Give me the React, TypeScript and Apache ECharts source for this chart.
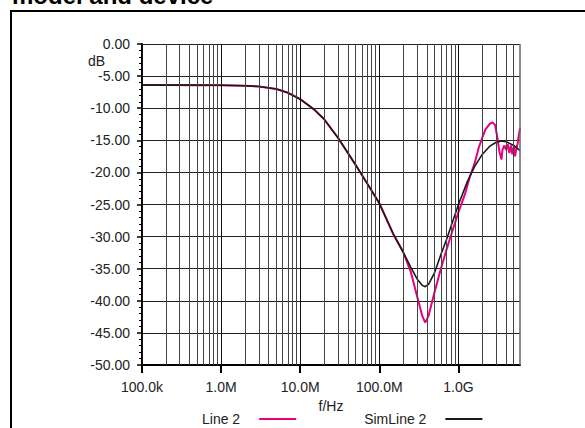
import React, { useEffect, useRef } from "react";
import * as echarts from "echarts";

const titleText = "model and device";
const xTicks = [1e5, 1e6, 1e7, 1e8, 1e9];
const xTickLabels = ["100.0k", "1.0M", "10.0M", "100.0M", "1.0G"];
const xMin = 1e5;
const xMax = 6e9;
const yMin = -50;
const yMax = 0;
const yStep = 5;

const line2Freq = [
  1e5, 2e5, 5e5, 1e6, 2e6, 3e6, 5e6, 7e6, 1e7, 1.5e7, 2e7, 3e7, 5e7, 7e7, 1e8, 1.5e8, 2e8,
  2.5e8, 3e8, 3.5e8, 3.8e8, 4.2e8, 5e8, 6e8, 7e8, 8e8, 1e9, 1.2e9, 1.4e9, 1.6e9, 1.8e9, 2e9,
  2.2e9, 2.5e9, 2.7e9, 2.9e9, 3.1e9, 3.3e9, 3.5e9, 3.6e9, 3.8e9, 4.0e9, 4.2e9, 4.4e9, 4.6e9,
  4.8e9, 5.0e9, 5.2e9, 5.4e9, 5.6e9, 5.8e9, 6.0e9,
];
const line2Db = [
  -6.4, -6.4, -6.41, -6.43, -6.5, -6.62, -7.0, -7.6, -8.6, -10.2, -11.7, -14.6, -18.8, -21.7, -24.8, -29.6, -32.4,
  -35.5, -39.3, -42.4, -43.4, -42.3, -38.6, -35.0, -32.2, -29.9, -26.2, -23.5, -20.6, -18.6, -16.2, -14.6,
  -13.3, -12.4, -12.2, -12.6, -14.5, -16.8, -18.0, -16.5, -15.8, -16.5, -15.6, -17.0, -15.8,
  -17.2, -16.0, -17.5, -16.3, -15.5, -14.2, -13.1,
];

const simFreq = [
  1e5, 2e5, 5e5, 1e6, 2e6, 3e6, 5e6, 7e6, 1e7, 1.5e7, 2e7, 3e7, 5e7, 7e7, 1e8, 1.5e8, 2e8,
  2.5e8, 3e8, 3.5e8, 3.8e8, 4.2e8, 5e8, 6e8, 7e8, 8e8, 1e9, 1.3e9, 1.6e9, 2e9, 2.5e9, 3e9,
  3.5e9, 4e9, 5e9, 6e9,
];
const simDb = [
  -6.4, -6.4, -6.41, -6.43, -6.5, -6.62, -7.0, -7.6, -8.6, -10.2, -11.7, -14.6, -18.8, -21.7, -24.8, -29.6, -32.4,
  -34.8, -36.6, -37.6, -37.8, -37.4, -35.6, -32.8, -30.6, -28.5, -25.0, -21.4, -19.1, -17.2, -15.9, -15.3,
  -15.1, -15.2, -15.8, -16.6,
];

const minorMultiples = [2, 3, 4, 5, 6, 7, 8, 9];

export default function App() {
  const ref = useRef<HTMLDivElement>(null);

  useEffect(() => {
    if (!ref.current) return;
    const chart = echarts.init(ref.current, null, { renderer: "svg" });

    const minorLines: any[] = [];
    xTicks.forEach((d) => {
      minorMultiples.forEach((m) => {
        const v = d * m;
        if (v < xMax) minorLines.push({ xAxis: v });
      });
    });
    const majorLines = xTicks.map((v) => ({ xAxis: v }));

    const font = "'Liberation Sans', Arial, Helvetica, sans-serif";
    const fs = 14;
    const fmtX = (v: number) => {
      for (let i = 0; i < xTicks.length; i++) {
        if (Math.abs(v / xTicks[i] - 1) < 1e-6) return xTickLabels[i];
      }
      return "";
    };

    chart.setOption({
      animation: false,
      textStyle: { fontFamily: font },
      grid: { left: 142, top: 44, width: 378, height: 321, containLabel: false },
      xAxis: {
        type: "log",
        logBase: 10,
        min: xMin,
        max: xMax,
        name: "f/Hz",
        nameLocation: "middle",
        nameGap: 29,
        nameTextStyle: { fontSize: fs, color: "#222", fontFamily: font },
        axisLine: { show: true, onZero: false, lineStyle: { color: "#000", width: 2 } },
        axisTick: { show: true, length: 8, lineStyle: { color: "#000", width: 2 } },
        axisLabel: { formatter: fmtX, fontSize: fs, color: "#222", margin: 15, fontFamily: font, showMaxLabel: false },
        splitLine: { show: false },
        minorTick: { show: false },
      },
      yAxis: {
        type: "value",
        min: yMin,
        max: yMax,
        interval: yStep,
        axisLine: { show: true, lineStyle: { color: "#000", width: 2 } },
        axisTick: { show: true, length: 5, lineStyle: { color: "#000", width: 1.5 } },
        minorTick: { show: true, splitNumber: 5, length: 3, lineStyle: { color: "#000", width: 1 } },
        axisLabel: {
          formatter: (v: number) => v.toFixed(2),
          fontSize: fs,
          color: "#222",
          margin: 12,
          fontFamily: font,
        },
        splitLine: { show: true, lineStyle: { color: "#222", width: 1 } },
      },
      legend: {
        left: 197,
        top: 407,
        align: "right",
        itemGap: 68,
        itemWidth: 37,
        itemHeight: 2,
        icon: "rect",
        textStyle: { fontSize: fs, color: "#222", fontFamily: font, padding: [0, 14, 0, 0] },
        data: ["Line 2", "SimLine 2"],
      },
      graphic: [
        {
          type: "text",
          left: 12,
          top: -17,
          style: { text: titleText, font: "bold 24px 'Liberation Sans', Arial, sans-serif", fill: "#000" },
        },
        {
          type: "rect",
          shape: { x: 11, y: 11, width: 700, height: 600 },
          style: { fill: "none", stroke: "#000", lineWidth: 2 },
          silent: true,
        },
        {
          type: "text",
          left: 88,
          top: 54,
          style: { text: "dB", font: "14px 'Liberation Sans', Arial, sans-serif", fill: "#222" },
        },
      ],
      series: [
        {
          name: "grid",
          type: "line",
          data: [],
          z: 1,
          silent: true,
          markLine: {
            silent: true,
            symbol: "none",
            label: { show: false },
            animation: false,
            data: [
              ...minorLines.map((d) => ({ ...d, lineStyle: { color: "#444", width: 1, type: "solid" } })),
              ...majorLines.map((d) => ({ ...d, lineStyle: { color: "#111", width: 1, type: "solid" } })),
              { xAxis: xMax, lineStyle: { color: "#666", width: 1.5, type: "solid" } },
            ],
          },
        },
        {
          name: "Line 2",
          type: "line",
          data: line2Freq.map((f, i) => [f, line2Db[i]]),
          symbol: "none",
          showSymbol: false,
          z: 3,
          lineStyle: { color: "#e8007f", width: 2 },
          itemStyle: { color: "#e8007f" },
        },
        {
          name: "SimLine 2",
          type: "line",
          data: simFreq.map((f, i) => [f, simDb[i]]),
          symbol: "none",
          showSymbol: false,
          z: 4,
          lineStyle: { color: "#1a1a1a", width: 1.6 },
          itemStyle: { color: "#1a1a1a" },
        },
      ],
    });

    return () => chart.dispose();
  }, []);

  return (
    <div
      ref={ref}
      style={{ position: "absolute", left: 0, top: 0, width: 585, height: 428, background: "#fff" }}
    />
  );
}
